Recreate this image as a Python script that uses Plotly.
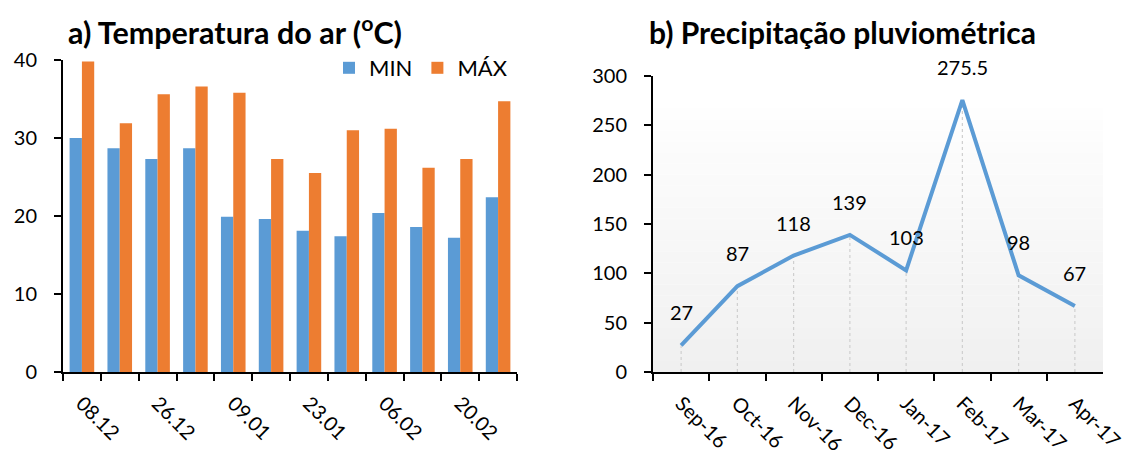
import plotly.graph_objects as go

# ---- data ----
dates = ["08.12", "17.12", "26.12", "02.01", "09.01", "16.01",
         "23.01", "30.01", "06.02", "13.02", "20.02", "27.02"]
date_labels = ["08.12", "", "26.12", "", "09.01", "",
               "23.01", "", "06.02", "", "20.02", ""]
t_min = [30.0, 28.7, 27.3, 28.7, 19.9, 19.6, 18.1, 17.4, 20.4, 18.6, 17.2, 22.4]
t_max = [39.8, 31.9, 35.6, 36.6, 35.8, 27.3, 25.5, 31.0, 31.2, 26.2, 27.3, 34.7]

months = ["Sep-16", "Oct-16", "Nov-16", "Dec-16", "Jan-17", "Feb-17", "Mar-17", "Apr-17"]
rain = [27, 87, 118, 139, 103, 275.5, 98, 67]

BLUE = "#5B9BD5"
ORANGE = "#ED7D31"
FONT = "Lato, 'Open Sans', sans-serif"

fig = go.Figure()

fig.add_trace(go.Bar(x=dates, y=t_min, name="MIN", marker=dict(color=BLUE, line=dict(width=0)),
                     xaxis="x", yaxis="y"))
fig.add_trace(go.Bar(x=dates, y=t_max, name="MÁX", marker=dict(color=ORANGE, line=dict(width=0)),
                     xaxis="x", yaxis="y"))

# drop lines built from the data
dx, dy = [], []
for m, v in zip(months, rain):
    dx += [m, m, None]
    dy += [0, v, None]
fig.add_trace(go.Scatter(x=dx, y=dy, mode="lines", line=dict(color="#cfcfcf", width=1.2, dash="dot"),
                         showlegend=False, hoverinfo="skip", xaxis="x2", yaxis="y2"))
fig.add_trace(go.Scatter(x=months, y=rain, mode="lines", line=dict(color=BLUE, width=4),
                         showlegend=False, xaxis="x2", yaxis="y2"))

annotations = []
for m, v in zip(months, rain):
    annotations.append(dict(x=m, y=v, xref="x2", yref="y2", text=f"{v:g}", showarrow=False,
                            yshift=33, font=dict(size=20, color="black", family=FONT)))

annotations.append(dict(x=66/1134, y=1-30/460, xref="paper", yref="paper", xanchor="left", yanchor="middle",
                        text="<b>a) Temperatura do ar (<sup>o</sup>C)</b>", showarrow=False,
                        font=dict(size=30.5, color="black", family=FONT)))
annotations.append(dict(x=647/1134, y=1-32/460, xref="paper", yref="paper", xanchor="left", yanchor="middle",
                        text="<b>b) Precipitação pluviométrica</b>", showarrow=False,
                        font=dict(size=30, color="black", family=FONT)))

# gradient background for the right plot
shapes = []
n = 24
top_val = 267.0
for i in range(n):
    y0 = top_val * i / n
    y1 = top_val * (i + 1) / n
    frac = (i + 0.5) / n  # 0 at bottom, 1 at top
    g = int(round(240 + (254 - 240) * frac))
    shapes.append(dict(type="rect", xref="x2 domain", yref="y2", x0=0, x1=1, y0=y0, y1=y1,
                       fillcolor=f"rgb({g},{g},{g})", line=dict(width=0), layer="below"))

axis_common = dict(showline=True, linecolor="black", linewidth=2, ticks="outside", ticklen=7,
                   tickwidth=2, tickcolor="black", showgrid=False, zeroline=False, automargin=False,
                   tickfont=dict(size=20, color="black", family=FONT))

fig.update_layout(
    width=1134, height=460, autosize=False,
    margin=dict(l=0, r=0, t=0, b=0, pad=0, autoexpand=False),
    paper_bgcolor="white", plot_bgcolor="white",
    barmode="group", bargap=0.35, bargroupgap=0,
    font=dict(family=FONT, color="black"),
    xaxis=dict(domain=[63/1134, 517/1134], anchor="y", type="category", categoryorder="array",
               categoryarray=dates, tickmode="array", tickvals=dates, ticktext=date_labels,
               tickson="boundaries", tickangle=45, range=[-0.5, 11.5], ticklabelstandoff=10,
               **axis_common),
    yaxis=dict(domain=[(460-372)/460, (460-60)/460], anchor="x", range=[0, 40], dtick=10,
               ticklabelstandoff=13, **axis_common),
    xaxis2=dict(domain=[653/1134, 1103/1134], anchor="y2", type="category", categoryorder="array",
                categoryarray=months, tickson="boundaries", tickangle=45, range=[-0.5, 7.5],
                ticklabelstandoff=10, **axis_common),
    yaxis2=dict(domain=[(460-372)/460, (460-76)/460], anchor="x2", range=[0, 300], dtick=50,
                ticklabelstandoff=13, **axis_common),
    legend=dict(orientation="h", x=329/1134, y=1-68/460, xanchor="left", yanchor="middle",
                font=dict(size=22, color="black", family=FONT), bgcolor="rgba(0,0,0,0)",
                itemwidth=30, tracegroupgap=0),
    annotations=annotations,
    shapes=shapes,
    hovermode=False,
)

fig.write_html("out.html", config={"displayModeBar": False},
               post_script="document.body.style.margin='0';document.body.style.padding='0';")
